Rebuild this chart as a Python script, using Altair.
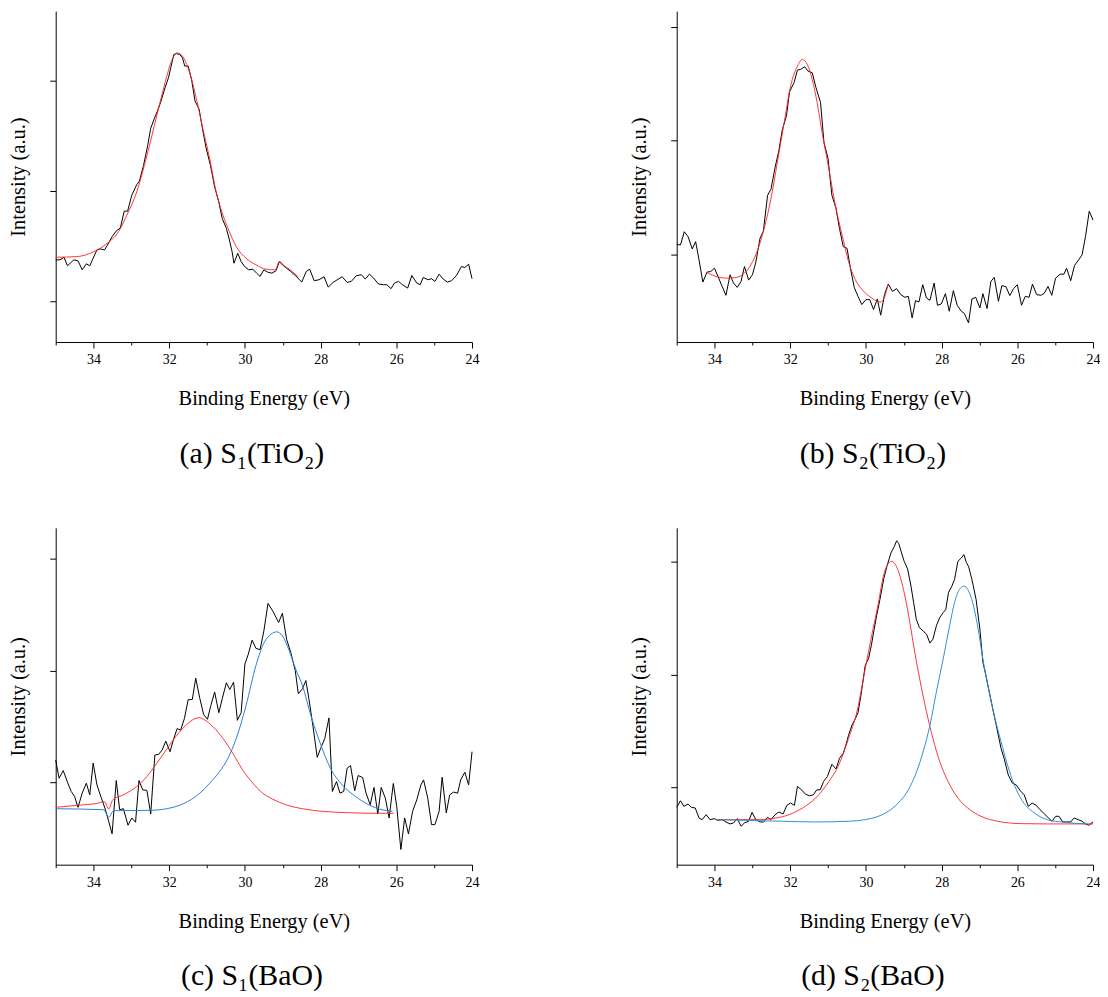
import altair as alt
import pandas as pd

FONT = "Liberation Serif"
BLACK = "#000000"
RED = "#ff1f1f"
BLUE_C = "#2f7be0"
BLUE_D = "#2f8fd2"

ENERGY_TICKS = list(range(24, 36))
X_LABEL = "Binding Energy (eV)"
Y_LABEL = "Intensity (a.u.)"
CAPTIONS = ["(a) S\u2081(TiO\u2082)", "(b) S\u2082(TiO\u2082)", "(c) S\u2081(BaO)", "(d) S\u2082(BaO)"]

# ---- (a) S1(TiO2): measured scan and fitted peak (energy eV, intensity a.u.)
A_SCAN = [(35.00,82.7),(34.89,82.7),(34.78,85.3),(34.69,76.7),(34.52,82.7),(34.41,81.7),(34.30,72.7),(34.19,78.7),(34.10,76.7),(33.91,92.7),
          (33.82,93.7),(33.71,92.7),(33.63,97.7),(33.51,106.0),(33.40,111.7),(33.29,115.0),(33.19,131.7),(33.10,131.7),(32.99,147.7),(32.86,158.3),
          (32.79,161.7),(32.68,177.7),(32.57,197.7),(32.49,215.0),(32.40,224.3),(32.31,232.7),(32.23,241.0),(32.11,256.0),(32.02,266.0),(31.96,276.0),
          (31.88,289.3),(31.81,290.3),(31.72,289.3),(31.65,286.0),(31.59,277.7),(31.50,277.7),(31.41,264.3),(31.32,242.7),(31.21,234.3),(31.12,214.3),
          (31.02,194.3),(30.91,177.7),(30.80,156.0),(30.69,141.0),(30.60,124.3),(30.49,114.3),(30.41,102.7),(30.34,91.0),(30.29,79.3),(30.19,89.3),
          (30.10,81.0),(30.01,76.0),(29.90,72.7),(29.79,73.3),(29.69,69.3),(29.60,66.0),(29.50,72.7),(29.40,70.3),(29.29,69.3),(29.18,71.7),
          (29.09,81.0),(29.01,77.7),(28.90,74.3),(28.79,71.0),(28.67,67.0),(28.50,60.3),(28.38,71.0),(28.29,73.3),(28.17,61.7),(28.04,62.7),
          (27.91,65.7),(27.80,55.3),(27.67,60.0),(27.56,62.7),(27.43,65.7),(27.30,60.0),(27.19,61.0),(27.06,66.7),(26.92,67.7),(26.82,63.3),
          (26.71,68.3),(26.60,64.3),(26.47,58.3),(26.34,57.7),(26.25,57.7),(26.14,53.7),(26.05,59.3),(25.94,61.0),(25.84,57.7),(25.70,54.3),
          (25.59,67.0),(25.46,59.3),(25.37,57.7),(25.29,65.0),(25.16,62.7),(25.07,63.7),(24.98,61.0),(24.87,68.3),(24.76,63.3),(24.65,60.3),
          (24.54,61.7),(24.41,67.0),(24.28,76.0),(24.19,75.0),(24.09,78.3),(24.00,63.7)]
A_FIT = [(35.00,85.3),(34.43,86.0),(33.99,91.0),(33.64,99.3),(33.34,111.0),(33.12,127.7),(32.86,151.0),(32.59,187.7),(32.33,227.7),(32.11,261.0),
         (31.94,282.7),(31.79,291.0),(31.65,287.7),(31.46,271.0),(31.28,244.3),(31.11,214.3),(30.93,184.3),(30.76,151.0),(30.58,127.7),(30.41,111.0),
         (30.23,96.0),(29.97,84.3),(29.71,77.7),(29.44,73.3),(29.20,72.7),(29.09,81.0),(28.96,76.7),(28.83,73.3),(28.70,69.3),(28.59,65.7)]
A_YTICKS = [41, 152, 263]

# ---- (b) S2(TiO2)
B_SCAN = [(35.00,98.3),(34.90,97.7),(34.80,111.0),(34.70,106.0),(34.59,93.7),(34.50,101.0),(34.41,82.7),(34.31,60.3),(34.20,70.3),(34.10,71.0),
          (34.00,74.3),(33.91,66.0),(33.80,56.0),(33.70,47.0),(33.59,67.7),(33.50,59.3),(33.40,55.0),(33.30,61.0),(33.21,76.0),(33.10,62.3),
          (33.00,67.7),(32.91,80.3),(32.80,104.3),(32.71,111.7),(32.60,147.7),(32.51,153.7),(32.40,176.0),(32.30,192.7),(32.21,213.7),(32.10,227.7),
          (32.02,251.7),(31.90,261.0),(31.81,273.7),(31.73,274.3),(31.62,277.0),(31.53,272.7),(31.42,271.0),(31.32,256.0),(31.20,241.0),(31.11,201.0),
          (31.00,184.3),(30.90,147.7),(30.79,134.3),(30.70,114.3),(30.60,96.0),(30.50,94.3),(30.41,74.3),(30.31,55.0),(30.21,46.0),(30.11,37.7),
          (30.00,42.7),(29.90,42.7),(29.80,32.7),(29.70,43.3),(29.61,27.0),(29.51,47.7),(29.41,58.3),(29.30,51.0),(29.19,53.7),(29.08,47.7),
          (28.97,45.0),(28.88,46.0),(28.78,24.3),(28.69,41.7),(28.60,40.3),(28.50,57.7),(28.40,44.3),(28.31,42.0),(28.20,59.3),(28.11,37.0),
          (28.01,38.3),(27.90,48.7),(27.80,31.0),(27.69,51.7),(27.59,37.0),(27.48,31.0),(27.40,28.7),(27.29,19.3),(27.20,43.3),(27.10,45.0),
          (26.99,34.3),(26.91,48.7),(26.80,33.7),(26.70,61.0),(26.61,65.0),(26.50,41.0),(26.41,56.7),(26.30,55.7),(26.20,46.7),(26.10,53.7),
          (26.00,57.7),(25.89,37.0),(25.79,46.0),(25.69,45.0),(25.60,58.3),(25.49,47.7),(25.38,47.0),(25.29,49.0),(25.19,56.0),(25.09,47.0),
          (24.99,64.3),(24.87,68.3),(24.77,68.3),(24.70,74.3),(24.59,61.7),(24.49,77.0),(24.38,82.7),(24.29,87.7),(24.20,106.0),(24.10,131.7),
          (24.00,122.7)]
B_FIT = [(34.22,70.3),(33.96,66.0),(33.70,64.3),(33.43,65.0),(33.21,69.3),(33.04,77.7),(32.86,92.7),(32.69,114.3),(32.51,144.3),(32.34,181.0),
         (32.16,221.0),(31.99,257.7),(31.81,277.7),(31.68,284.3),(31.55,279.3),(31.42,264.3),(31.29,241.0),(31.16,211.0),(30.98,174.3),(30.81,137.7),
         (30.63,107.7),(30.46,81.0),(30.28,62.7),(30.06,51.0),(29.85,44.3),(29.63,40.3),(29.54,42.7),(29.42,57.7)]
B_YTICKS = [87.7, 202.7, 317]

# ---- (c) S1(BaO)
C_SCAN = [(35.00,105.3),(34.91,87.0),(34.80,94.7),(34.69,83.0),(34.59,73.7),(34.50,68.7),(34.41,57.7),(34.30,72.0),(34.19,82.0),(34.10,70.3),
          (34.01,102.3),(33.91,80.3),(33.80,67.7),(33.70,57.0),(33.60,43.7),(33.51,31.0),(33.40,84.7),(33.31,55.3),(33.21,56.3),(33.09,39.7),
          (32.99,47.0),(32.89,42.7),(32.80,84.7),(32.70,75.3),(32.59,74.7),(32.49,51.0),(32.38,110.3),(32.28,111.0),(32.19,115.3),(32.09,124.3),
          (31.98,113.7),(31.88,127.0),(31.79,137.0),(31.70,135.3),(31.60,147.0),(31.50,166.0),(31.39,166.3),(31.30,187.7),(31.19,167.0),(31.09,151.0),
          (30.99,146.3),(30.90,160.3),(30.80,173.7),(30.69,153.0),(30.60,167.0),(30.49,183.0),(30.40,176.3),(30.30,183.7),(30.20,145.3),(30.10,153.0),
          (30.00,202.0),(29.91,212.0),(29.81,226.0),(29.71,217.7),(29.60,216.3),(29.50,235.3),(29.39,263.0),(29.25,254.3),(29.11,243.7),(29.01,253.0),
          (28.90,227.0),(28.79,213.7),(28.67,195.3),(28.59,172.0),(28.48,177.0),(28.39,185.3),(28.31,167.0),(28.20,138.7),(28.09,108.0),(28.00,117.0),
          (27.89,127.0),(27.78,147.7),(27.69,73.7),(27.58,83.7),(27.49,72.0),(27.39,73.7),(27.30,97.0),(27.21,99.7),(27.10,74.3),(27.01,89.7),
          (26.89,87.7),(26.80,72.0),(26.69,60.3),(26.59,77.7),(26.49,51.0),(26.40,77.7),(26.29,67.0),(26.19,47.0),(26.08,81.7),(25.99,58.7),
          (25.88,15.3),(25.78,47.0),(25.68,31.0),(25.57,53.7),(25.46,65.3),(25.35,80.3),(25.28,85.3),(25.17,67.0),(25.07,40.3),(24.98,40.3),
          (24.87,53.7),(24.79,88.0),(24.68,52.0),(24.59,70.3),(24.49,73.0),(24.38,72.0),(24.30,85.3),(24.19,93.0),(24.09,80.3),(24.00,113.7)]
C_FIT_1 = [(35.00,57.7),(34.43,59.7),(33.91,61.7),(33.71,63.3),(33.60,56.0),(33.49,65.3),(33.21,70.3),(32.86,78.7),(32.59,88.7),(32.33,102.0),
           (32.07,116.0),(31.81,129.7),(31.54,141.0),(31.32,147.0),(31.21,148.0),(31.09,146.3),(30.84,138.7),(30.58,127.0),(30.32,112.0),(30.06,95.3),
           (29.79,82.0),(29.53,72.0),(29.27,66.0),(28.92,60.3),(28.48,56.3),(27.96,53.7),(27.26,52.3),(26.64,51.7),(26.07,51.7)]
C_FIT_2 = [(35.00,56.3),(33.73,55.3),(33.60,47.7),(33.47,54.3),(32.51,54.7),(32.07,56.3),(31.63,61.3),(31.19,72.0),(30.93,82.0),(30.67,93.7),
           (30.45,107.0),(30.23,127.0),(29.97,160.3),(29.71,200.3),(29.49,223.7),(29.31,232.0),(29.16,234.3),(29.01,230.3),(28.83,215.3),(28.66,197.0),
           (28.48,180.3),(28.26,150.3),(28.04,125.3),(27.74,97.0),(27.43,80.3),(27.08,68.7),(26.73,60.3),(26.38,55.3),(26.10,53.7)]
C_YTICKS = [83, 195.3, 307.7]

# ---- (d) S2(BaO)
D_SCAN = [(35.00,57.7),(34.90,64.3),(34.81,58.7),(34.70,61.0),(34.61,57.7),(34.51,57.0),(34.41,47.0),(34.33,45.3),(34.22,50.3),(34.12,45.3),
          (34.01,46.3),(33.91,44.7),(33.80,45.3),(33.70,43.0),(33.59,41.0),(33.50,42.0),(33.40,46.3),(33.30,38.7),(33.21,42.0),(33.10,43.7),
          (33.01,52.7),(32.91,45.3),(32.80,43.0),(32.70,43.0),(32.60,47.7),(32.51,45.3),(32.40,50.3),(32.30,53.0),(32.19,51.0),(32.09,59.7),
          (31.99,62.0),(31.89,59.7),(31.81,78.7),(31.70,75.3),(31.60,71.0),(31.49,69.3),(31.39,70.3),(31.30,75.3),(31.21,75.3),(31.12,83.7),
          (31.02,88.7),(30.90,101.0),(30.79,96.3),(30.70,107.0),(30.60,112.0),(30.53,120.3),(30.46,130.3),(30.37,140.3),(30.28,147.0),(30.21,153.0),
          (30.13,171.0),(30.02,200.3),(29.93,207.7),(29.86,220.3),(29.79,235.3),(29.72,250.3),(29.63,267.0),(29.53,287.7),(29.45,299.7),(29.34,313.7),
          (29.25,320.3),(29.19,326.0),(29.13,323.0),(29.06,313.7),(28.99,305.3),(28.90,297.7),(28.81,280.3),(28.74,263.7),(28.67,247.0),(28.59,238.7),
          (28.49,235.3),(28.40,232.0),(28.31,223.0),(28.23,227.0),(28.14,240.3),(28.05,248.7),(27.96,253.7),(27.89,257.0),(27.82,273.7),(27.73,280.3),
          (27.66,287.0),(27.57,305.3),(27.48,308.7),(27.41,312.0),(27.35,304.3),(27.29,300.3),(27.20,287.0),(27.09,267.0),(26.99,237.0),(26.91,203.7),
          (26.83,190.3),(26.74,173.7),(26.65,157.0),(26.54,137.0),(26.43,117.0),(26.35,107.0),(26.24,90.3),(26.13,82.0),(26.03,80.3),(25.92,74.3),
          (25.82,70.3),(25.71,58.7),(25.61,62.0),(25.50,59.7),(25.40,55.3),(25.28,51.0),(25.18,47.0),(25.08,43.7),(24.99,48.7),(24.90,48.7),
          (24.80,43.0),(24.70,43.0),(24.59,43.0),(24.50,47.0),(24.39,45.3),(24.29,43.7),(24.20,41.0),(24.11,39.7),(24.00,43.0)]
D_FIT_1 = [(33.96,45.3),(32.82,45.3),(32.38,47.0),(32.03,50.3),(31.68,57.0),(31.33,67.0),(30.98,83.7),(30.72,100.3),(30.46,127.0),(30.24,153.7),
           (30.02,197.0),(29.85,230.3),(29.67,263.7),(29.54,290.3),(29.43,302.0),(29.32,305.3),(29.22,302.0),(29.10,290.3),(28.97,270.3),(28.84,243.7),
           (28.71,213.7),(28.58,187.0),(28.40,153.7),(28.23,127.0),(28.05,103.7),(27.83,83.7),(27.57,67.0),(27.31,57.0),(26.96,48.7),(26.52,43.7),
           (25.91,41.3),(25.21,41.0),(24.00,41.0)]
D_FIT_2 = [(33.96,45.3),(32.21,43.7),(31.33,43.0),(30.46,43.7),(30.02,45.3),(29.67,48.7),(29.41,53.7),(29.15,62.0),(28.88,75.3),(28.66,93.7),
           (28.49,113.7),(28.31,140.3),(28.14,173.7),(27.96,207.0),(27.79,240.3),(27.66,263.7),(27.53,277.0),(27.41,280.3),(27.31,277.0),(27.18,263.7),
           (27.05,240.3),(26.91,207.0),(26.78,180.3),(26.61,150.3),(26.43,123.7),(26.26,100.3),(26.08,80.3),(25.86,63.7),(25.56,52.3),(25.21,45.3),
           (24.77,42.7),(24.16,41.0)]
D_YTICKS = [77.7, 191.3, 304.7]

TOP_H = 333
BOTTOM_H = 339
PANEL_W = 419


def frame(pairs):
    return pd.DataFrame(pairs, columns=["E", "I"])


def panel(layers, yticks, h, caption):
    x = alt.X(
        "E:Q",
        scale=alt.Scale(domain=[24, 35], reverse=True, nice=False, zero=False),
        axis=alt.Axis(
            values=ENERGY_TICKS,
            title=X_LABEL,
            labelExpr="datum.value % 2 == 0 ? datum.label : ''",
            tickSize={"condition": {"test": "datum.value % 2 != 0", "value": 3}, "value": 6},
            labelPadding=5,
            titlePadding=22,
            labelFlush=False,
            labelOverlap=False,
        ),
    )
    y = alt.Y(
        "I:Q",
        scale=alt.Scale(domain=[0, h], nice=False, zero=False),
        axis=alt.Axis(values=yticks, labels=False, tickSize=6, title=Y_LABEL, titlePadding=21),
    )
    charts = [
        alt.Chart(frame(p)).mark_line(color=c, strokeWidth=w, interpolate=ip).encode(x=x, y=y)
        for p, c, w, ip in layers
    ]
    return alt.layer(*charts).properties(
        width=PANEL_W,
        height=h,
        title=alt.TitleParams(
            text=caption, orient="bottom", anchor="middle", frame="group",
            font=FONT, fontSize=30, fontWeight="normal", color="black",
            offset=30, dx=-12,
        ),
    )


pa = panel([(A_SCAN, BLACK, 1, "linear"), (A_FIT, RED, 0.9, "monotone")], A_YTICKS, TOP_H, CAPTIONS[0])
pb = panel([(B_SCAN, BLACK, 1, "linear"), (B_FIT, RED, 0.9, "monotone")], B_YTICKS, TOP_H, CAPTIONS[1])
pc = panel([(C_SCAN, BLACK, 1, "linear"), (C_FIT_1, RED, 0.9, "monotone"), (C_FIT_2, BLUE_C, 1, "monotone")],
           C_YTICKS, BOTTOM_H, CAPTIONS[2])
pd_ = panel([(D_SCAN, BLACK, 1, "linear"), (D_FIT_1, RED, 0.9, "monotone"), (D_FIT_2, BLUE_D, 1, "monotone")],
            D_YTICKS, BOTTOM_H, CAPTIONS[3])

chart = (
    alt.concat(pa, pb, pc, pd_, columns=2, spacing={"row": 187, "column": 206}, bounds="flush")
    .properties(padding={"left": 0, "top": 0, "right": 0, "bottom": 0})
    .configure_view(stroke=None)
    .configure_axis(
        grid=False,
        domainColor="black",
        domainWidth=1,
        tickColor="black",
        tickWidth=1,
        labelFont=FONT,
        labelFontSize=14,
        labelColor="black",
        titleFont=FONT,
        titleFontSize=20.5,
        titleFontWeight="normal",
        titleColor="black",
    )
)

chart.save("out.html", embed_options={"renderer": "svg", "actions": False})
